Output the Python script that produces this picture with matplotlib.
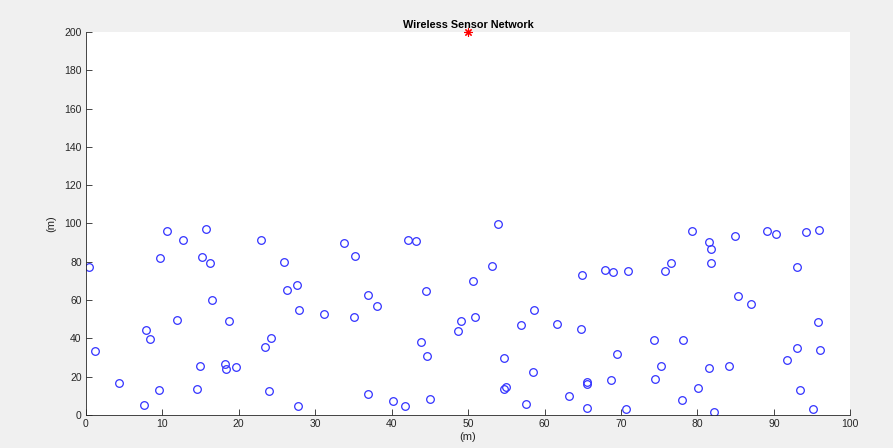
import matplotlib.pyplot as plt

# sensor node coordinates (m)
node_x = [0.46, 10.66, 12.67, 15.77, 9.70, 15.24, 16.25, 22.92, 16.55, 11.89,
          18.69, 7.83, 8.44, 1.16, 24.18, 23.48, 14.94, 18.17, 18.38, 19.65,
          4.30, 9.62, 14.55, 23.96, 7.57,
          25.97, 33.81, 35.21, 42.19, 43.15, 26.32, 27.63, 27.89, 31.12, 35.12,
          36.87, 38.05, 44.54, 49.08, 48.73, 43.89, 44.67, 27.72, 36.96, 40.18,
          41.75, 45.07,
          53.87, 53.13, 50.60, 64.95, 67.87, 68.96, 70.96, 50.87, 58.59, 56.93,
          61.63, 64.82, 74.32, 69.53, 54.70, 58.54, 54.70, 55.00, 65.52, 65.56,
          68.70, 75.20, 74.50, 63.25, 57.54, 65.60, 70.62,
          79.29, 81.52, 81.78, 81.82, 84.96, 89.14, 90.32, 94.24, 95.86, 76.59,
          75.76, 92.99, 85.35, 86.97, 95.81, 78.07, 92.99, 96.04, 91.76, 81.48,
          84.13, 80.08, 93.46, 78.02, 82.17, 95.08]
node_y = [77.4, 96.1, 91.4, 97.0, 82.1, 82.5, 79.4, 91.4, 60.05, 49.8,
          48.9, 44.2, 39.9, 33.6, 40.4, 35.3, 25.8, 26.5, 23.9, 25.1,
          16.9, 13.05, 13.6, 12.4, 5.4,
          80.1, 90.0, 83.0, 91.5, 91.0, 65.4, 68.0, 54.8, 52.7, 51.3,
          62.5, 56.8, 64.6, 48.9, 43.7, 38.0, 30.6, 4.5, 10.95, 7.5,
          4.9, 8.35,
          99.6, 77.8, 70.0, 73.1, 75.7, 74.7, 75.4, 51.0, 54.8, 46.8,
          47.3, 45.1, 39.2, 31.7, 29.6, 22.3, 13.7, 14.5, 17.1, 16.2,
          18.3, 25.6, 18.8, 9.8, 5.9, 3.5, 3.0,
          95.9, 90.5, 86.9, 79.4, 93.3, 95.9, 94.5, 95.6, 96.4, 79.4,
          75.4, 77.5, 62.1, 57.8, 48.4, 39.0, 35.0, 33.9, 28.6, 24.4,
          25.4, 14.1, 12.9, 8.0, 1.4, 3.3]

# base station
sink_x = [50]
sink_y = [200]

plt.rcParams['font.family'] = ['Liberation Sans', 'DejaVu Sans']

fig = plt.figure(figsize=(8.93, 4.48), dpi=100, facecolor='#f0f0f0')
ax = fig.add_axes([0.0961, 0.0737, 0.8561, 0.8549])
ax.set_facecolor('white')

ax.plot(node_x, node_y, 'o', mfc='none', mec='#3333ff', ms=5.5, mew=0.9,
        linestyle='none')
# asterisk marker for the sink
ax.plot(sink_x, sink_y, marker=(8, 2, 0), color='red', ms=6, mew=0.8,
        linestyle='none', clip_on=False, zorder=5)

ax.set_xlim(0, 100)
ax.set_ylim(0, 200)
ax.set_xticks(range(0, 101, 10))
ax.set_yticks(range(0, 201, 20))

for side in ('top', 'right'):
    ax.spines[side].set_visible(False)
for side in ('left', 'bottom'):
    ax.spines[side].set_color('#262626')
    ax.spines[side].set_linewidth(0.6)
ax.tick_params(direction='in', length=4, width=0.6, colors='#262626',
               labelsize=7.5, pad=3)

ax.set_title('Wireless Sensor Network', fontsize=7.8, fontweight='bold', pad=3)
ax.set_xlabel('(m)', fontsize=8, labelpad=2, color='#262626')
ax.set_ylabel('(m)', fontsize=8, labelpad=6, color='#262626')

fig.savefig('out.png', dpi=100, facecolor=fig.get_facecolor())
